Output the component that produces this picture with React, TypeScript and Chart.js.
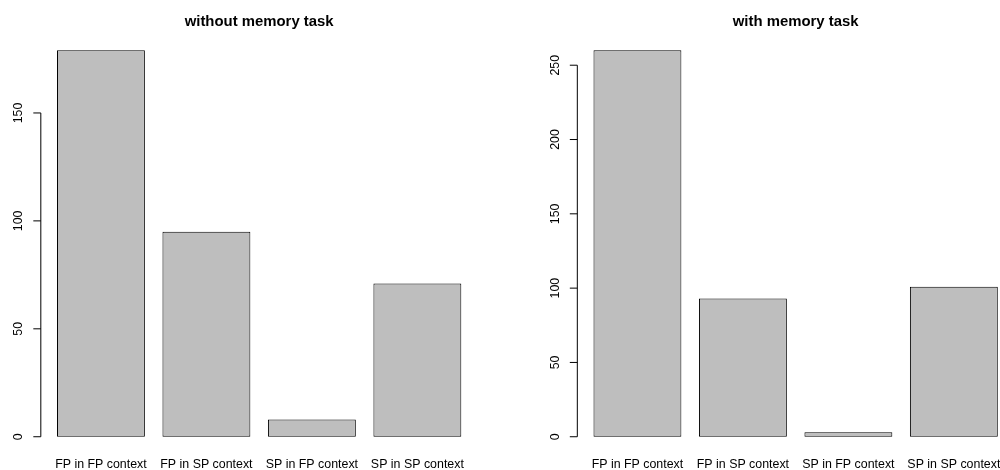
import React, { useEffect, useRef } from "react";
import { Chart, registerables } from "chart.js";

Chart.register(...registerables);

// ---- data ----
const CATEGORIES = ["FP in FP context", "FP in SP context", "SP in FP context", "SP in SP context"];
const WITHOUT_MEMORY = [179, 95, 8, 71];
const WITH_MEMORY = [260, 93, 3, 101];
const WITHOUT_TICKS = [0, 50, 100, 150];
const WITH_TICKS = [0, 50, 100, 150, 200, 250];
const TITLE_WITHOUT = "without memory task";
const TITLE_WITH = "with memory task";

// ---- style ----
const FONT = '"Liberation Sans", Arial, Helvetica, sans-serif';
const BAR_FILL = "#BEBEBE";
const LABEL_SIZE = 12.4;
const TITLE_SIZE = 14.9;

// R-style y axis: line spanning first..last tick, outward ticks, labels parallel to the axis
const rAxisPlugin = {
  id: "rAxis",
  afterDraw(chart: any, _args: any, opts: any) {
    const { ctx, chartArea } = chart;
    const y = chart.scales.y;
    const n = chart.data.labels.length;
    const catW = (chartArea.right - chartArea.left) / n;
    const axisX = chartArea.left - catW * 0.07;
    const ticks: number[] = opts.ticks || [];
    if (!ticks.length) return;
    ctx.save();
    ctx.strokeStyle = "#000";
    ctx.lineWidth = 1;
    ctx.beginPath();
    ctx.moveTo(axisX, y.getPixelForValue(ticks[0]));
    ctx.lineTo(axisX, y.getPixelForValue(ticks[ticks.length - 1]));
    for (const t of ticks) {
      const py = y.getPixelForValue(t);
      ctx.moveTo(axisX - 7.5, py);
      ctx.lineTo(axisX, py);
    }
    ctx.stroke();
    ctx.fillStyle = "#000";
    ctx.font = `${LABEL_SIZE}px ${FONT}`;
    ctx.textAlign = "center";
    ctx.textBaseline = "middle";
    for (const t of ticks) {
      ctx.save();
      ctx.translate(axisX - 21.8, y.getPixelForValue(t));
      ctx.rotate(-Math.PI / 2);
      ctx.fillText(String(t), 0, 0);
      ctx.restore();
    }
    ctx.restore();
  },
};

type PanelProps = {
  title: string;
  values: number[];
  ticks: number[];
  width: number;
  height: number;
  padLeft: number;
  padRight: number;
  left: number;
};

function BarPanel({ title, values, ticks, width, height, padLeft, padRight, left }: PanelProps) {
  const ref = useRef<HTMLCanvasElement | null>(null);

  useEffect(() => {
    if (!ref.current) return;
    const vmax = Math.max(...values);
    const chart = new Chart(ref.current, {
      type: "bar",
      data: {
        labels: CATEGORIES,
        datasets: [
          {
            data: values,
            backgroundColor: BAR_FILL,
            borderColor: "#000",
            borderWidth: 1,
            borderSkipped: false,
            categoryPercentage: 1,
            barPercentage: 1 / 1.2,
          } as any,
        ],
      },
      options: {
        responsive: false,
        animation: false,
        devicePixelRatio: 1,
        layout: { padding: { left: padLeft, right: padRight, top: 0, bottom: 0 } },
        plugins: {
          legend: { display: false },
          tooltip: { enabled: false },
          title: {
            display: true,
            text: title,
            fullSize: false,
            color: "#000",
            font: { family: FONT, size: TITLE_SIZE, weight: "bold", lineHeight: 1.2 },
            padding: { top: 12.9, bottom: 4.12 },
          },
          rAxis: { ticks },
        } as any,
        scales: {
          x: {
            type: "category",
            offset: true,
            grid: { display: false, drawTicks: false },
            border: { display: false },
            ticks: {
              color: "#000",
              font: { family: FONT, size: LABEL_SIZE, lineHeight: 1 },
              padding: 5.8,
              maxRotation: 0,
              minRotation: 0,
              autoSkip: false,
            },
            afterFit: (scale: any) => {
              scale.height = 17.8;
            },
          },
          y: {
            display: false,
            min: -0.04 * vmax,
            max: 1.04 * vmax,
          },
        },
      },
      plugins: [rAxisPlugin],
    });
    return () => chart.destroy();
  }, [title, values, ticks, width, height, padLeft, padRight]);

  return (
    <canvas
      ref={ref}
      width={width}
      height={height}
      style={{ position: "absolute", left, top: 0, width, height }}
    />
  );
}

export default function App() {
  return (
    <div
      style={{
        position: "fixed",
        left: 0,
        top: 0,
        width: 1000,
        height: 470,
        overflow: "hidden",
        background: "#fff",
      }}
    >
      <BarPanel
        title={TITLE_WITHOUT}
        values={WITHOUT_MEMORY}
        ticks={WITHOUT_TICKS}
        width={500}
        height={470}
        padLeft={48.2}
        padRight={29.9}
        left={0}
      />
      <BarPanel
        title={TITLE_WITH}
        values={WITH_MEMORY}
        ticks={WITH_TICKS}
        width={540}
        height={470}
        padLeft={84.7}
        padRight={33.4}
        left={500}
      />
    </div>
  );
}
